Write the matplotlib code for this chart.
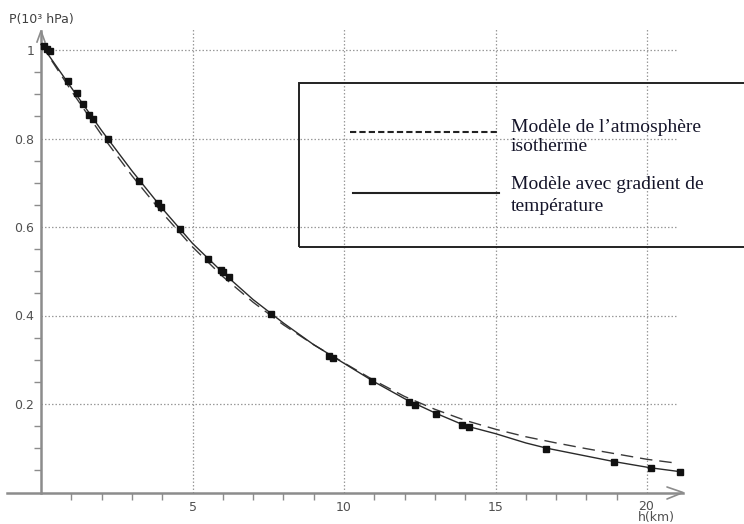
import matplotlib
matplotlib.use("Agg")
import matplotlib.pyplot as plt
from matplotlib.patches import Rectangle
from matplotlib.lines import Line2D

# Altitude (km) and pressure (10^3 hPa) of the measured points
h_mes = [0.10, 0.20, 0.30, 0.88, 1.18, 1.40, 1.59, 1.71, 2.22, 3.23, 3.85, 3.95,
         4.59, 5.52, 5.94, 6.00, 6.20, 7.58, 9.52, 9.64, 10.91, 12.15, 12.33,
         13.04, 13.88, 14.13, 16.67, 18.91, 20.14, 21.09]
p_mes = [1.010, 1.003, 0.998, 0.929, 0.902, 0.878, 0.854, 0.843, 0.798, 0.705,
         0.654, 0.645, 0.595, 0.528, 0.502, 0.499, 0.488, 0.404, 0.309, 0.305,
         0.252, 0.205, 0.198, 0.178, 0.153, 0.147, 0.098, 0.069, 0.055, 0.047]

# Model with temperature gradient
h_grad = [0, 1, 2, 3, 4, 5, 6, 7, 8, 9, 10, 11, 12, 13, 14, 15, 16, 16.7,
          18.9, 20.1, 21.1]
p_grad = [1.013, 0.915, 0.818, 0.727, 0.642, 0.563, 0.497, 0.436, 0.383,
          0.334, 0.292, 0.250, 0.212, 0.180, 0.151, 0.133, 0.112, 0.100,
          0.070, 0.056, 0.047]

# Isothermal atmosphere model
h_iso = [0, 1, 2, 3, 4, 5, 6, 7, 8, 9, 10, 11, 12, 13, 14, 15, 16, 17, 18,
         19, 20, 20.9]
p_iso = [1.013, 0.908, 0.808, 0.716, 0.632, 0.555, 0.488, 0.430, 0.379,
         0.334, 0.293, 0.253, 0.217, 0.188, 0.163, 0.143, 0.126, 0.112,
         0.099, 0.087, 0.075, 0.067]

x_major = [5, 10, 15, 20]
x_labels = ["5", "10", "15", ""]   # the last one is drawn with the axis title
y_major = [0.2, 0.4, 0.6, 0.8, 1.0]
y_labels = ["0.2", "0.4", "0.6", "0.8", "1"]

W, H = 744, 524
X0, XS = 41.0, 30.3     # pixel of h = 0, pixels per km
Y0, YS = 492.5, 442.5   # pixel of P = 0, pixels per 10^3 hPa


def hx(px):
    return (px - X0) / XS


def py(pix):
    return (Y0 - pix) / YS


def fx(px):
    return px / W


def fy(pix):
    return 1 - pix / H


fig = plt.figure(figsize=(W / 100, H / 100), dpi=100)
ax = fig.add_axes([0, 0, 1, 1])
ax.set_xlim(hx(0), hx(W))
ax.set_ylim(py(H), py(0))
ax.patch.set_visible(False)

axis_col = "#8c8c8c"
grid_col = "#9a9a9a"
label_col = "#505050"

for s in ("top", "right"):
    ax.spines[s].set_visible(False)
ax.spines["left"].set_position(("data", 0))
ax.spines["bottom"].set_position(("data", 0))
ax.spines["left"].set_bounds(0, py(31))
ax.spines["bottom"].set_bounds(hx(7), hx(683))
for s in ("left", "bottom"):
    ax.spines[s].set_color(axis_col)
    ax.spines[s].set_linewidth(1.8)

# axis arrow heads
ax.plot([hx(667), hx(683), hx(667)], [py(487), py(492.5), py(499)],
        color=axis_col, lw=1.2, solid_capstyle="round", clip_on=False)
ax.plot([hx(37), hx(41), hx(45)], [py(42), py(31), py(42)],
        color=axis_col, lw=1.2, clip_on=False)

ax.set_xticks(x_major)
ax.set_xticklabels(x_labels)
ax.set_xticks([i for i in range(1, 20) if i % 5], minor=True)
ax.set_yticks(y_major)
ax.set_yticklabels(y_labels)
ax.set_yticks([k * 0.05 for k in range(1, 20) if k % 4], minor=True)
ax.tick_params(which="major", length=0, labelsize=9, labelcolor=label_col)
ax.tick_params(axis="x", which="major", pad=6)
ax.tick_params(axis="y", which="major", pad=5)
ax.tick_params(which="minor", length=5, width=1, color=axis_col, direction="out")

# dotted grid
ax.hlines(y_major, 0, hx(677), colors=grid_col, lw=0.9,
          linestyles=(0, (1.2, 1.6)), zorder=1)
ax.vlines(x_major, 0, py(28), colors=grid_col, lw=0.9,
          linestyles=(0, (1.2, 1.6)), zorder=1)

# curves and measurements
ax.plot(h_iso, p_iso, color="#3a3a3a", lw=1.0, ls=(0, (9, 5)), zorder=3)
ax.plot(h_grad, p_grad, color="#2a2a2a", lw=1.0, zorder=3)
ax.plot(h_mes, p_mes, ls="none", marker="s", ms=4, color="#111111", zorder=4)

ax.text(hx(9), py(20), "P(10³ hPa)", fontsize=9, color="#404040",
        ha="left", va="center")
ax.text(hx(638), py(500), "20\nh(km)", fontsize=9, color=label_col,
        ha="left", va="top", linespacing=0.8, clip_on=False)

# legend box
fig.add_artist(Rectangle((fx(299), fy(247)), fx(800) - fx(299), fy(83) - fy(247),
                         transform=fig.transFigure, fill=False, lw=1.4,
                         ec="#222222"))
fig.add_artist(Line2D([fx(350), fx(497)], [fy(132), fy(132)],
                      transform=fig.transFigure, color="#222222", lw=1.5,
                      ls=(0, (3, 1.5))))
fig.add_artist(Line2D([fx(353), fx(499)], [fy(193), fy(193)],
                      transform=fig.transFigure, color="#222222", lw=1.5))
serif = dict(family="Liberation Serif", fontsize=14, color="#15152a",
             ha="left", va="baseline", transform=fig.transFigure)
fig.text(fx(511), fy(132), "Modèle de l’atmosphère", **serif)
fig.text(fx(511), fy(151), "isotherme", **serif)
fig.text(fx(511), fy(189), "Modèle avec gradient de", **serif)
fig.text(fx(511), fy(211), "température", **serif)

fig.savefig("out.png", dpi=100)
